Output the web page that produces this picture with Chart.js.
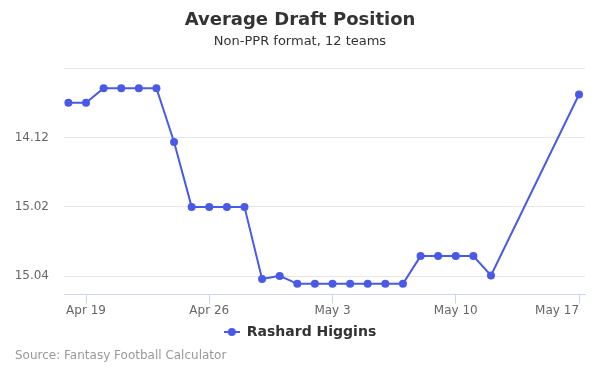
<!DOCTYPE html>
<html>
<head>
<meta charset="utf-8">
<script src="https://cdn.jsdelivr.net/npm/chart.js@4.4.1/dist/chart.umd.min.js"></script>
<style>
  html, body { margin: 0; padding: 0; background: #fff; }
  #wrap { position: relative; width: 600px; height: 375px; }
</style>
</head>
<body>
<div id="wrap"><canvas id="adpChart" width="600" height="375"></canvas></div>
<script>
// ADP data, one point per day (overall pick number, lower is earlier)
const dates = [
    "Apr 18", "Apr 19", "Apr 20", "Apr 21", "Apr 22", "Apr 23", "Apr 24",
    "Apr 25", "Apr 26", "Apr 27", "Apr 28", "Apr 29", "Apr 30",
    "May 1", "May 2", "May 3", "May 4", "May 5", "May 6", "May 7",
    "May 8", "May 9", "May 10", "May 11", "May 12", "May 17"
];
const adp = [
    167.0, 167.0, 166.58, 166.58, 166.58, 166.58, 168.13,
    170.0, 170.0, 170.0, 170.0, 172.08, 171.99,
    172.22, 172.22, 172.22, 172.22, 172.22, 172.22, 172.22,
    171.42, 171.42, 171.42, 171.42, 171.98, 166.76
];
const xTickLabels = ["Apr 19", "Apr 26", "May 3", "May 10", "May 17"];
const yTickValues = [166, 168, 170, 172];
const seriesName = "Rashard Higgins";
const teams = 12;

const color = "#4a5ae8";
const font = "'DejaVu Sans', sans-serif";
const xMin = -1.25;

const monthStart = { Apr: 0, May: 30 };
const dayIndex = (s) => {
    const [m, d] = s.split(" ");
    return monthStart[m] + Number(d) - 19; // days from Apr 19
};

const roundPick = (p) => {
    const r = Math.floor((p - 1) / teams) + 1;
    const k = ((p - 1) % teams) + 1;
    return r + "." + String(k).padStart(2, "0");
};

// legend marker: short line with a dot
const marker = document.createElement("canvas");
marker.width = 16;
marker.height = 10;
(() => {
    const c = marker.getContext("2d");
    c.strokeStyle = color;
    c.lineWidth = 2;
    c.beginPath();
    c.moveTo(0, 5);
    c.lineTo(16, 5);
    c.stroke();
    c.fillStyle = color;
    c.beginPath();
    c.arc(8, 5, 4, 0, Math.PI * 2);
    c.fill();
})();

const sourcePlugin = {
    id: "sourceText",
    afterDraw(chart) {
        const ctx = chart.ctx;
        ctx.save();
        ctx.font = "12px " + font;
        ctx.fillStyle = "#999999";
        ctx.textAlign = "left";
        ctx.textBaseline = "middle";
        ctx.fillText("Source: Fantasy Football Calculator", 15, 356);
        ctx.restore();
    }
};

new Chart(document.getElementById("adpChart"), {
    type: "line",
    data: {
        datasets: [{
            label: seriesName,
            data: dates.map((d, i) => ({ x: dayIndex(d), y: adp[i] })),
            borderColor: color,
            backgroundColor: color,
            borderWidth: 2,
            pointRadius: 4,
            pointHoverRadius: 5,
            pointBorderWidth: 0,
            pointStyle: "circle",
            tension: 0
        }]
    },
    options: {
        responsive: false,
        animation: false,
        layout: { padding: { left: 15, right: 15, top: 0, bottom: 26 } },
        scales: {
            x: {
                type: "linear",
                min: xMin,
                max: 28.34,
                afterBuildTicks: (axis) => {
                    // blank tick at the left edge so "inner" only pulls the last label in
                    axis.ticks = [{ value: xMin }].concat(
                        xTickLabels.map((l) => ({ value: dayIndex(l) }))
                    );
                },
                ticks: {
                    autoSkip: false,
                    maxRotation: 0,
                    align: "inner",
                    padding: 0,
                    color: "#666666",
                    font: { family: font, size: 12 },
                    callback: (v) => {
                        const l = xTickLabels.find((t) => dayIndex(t) === v);
                        return l || "";
                    }
                },
                grid: {
                    drawOnChartArea: false,
                    drawTicks: true,
                    tickLength: 9,
                    color: (ctx) => (ctx.tick && ctx.tick.value === xMin ? "rgba(0,0,0,0)" : "#ccd6eb")
                },
                border: { display: true, color: "#ccd6eb", width: 1 }
            },
            y: {
                type: "linear",
                reverse: true,
                min: 166,
                max: 172.53,
                afterFit: (axis) => { axis.width = 49; },
                afterBuildTicks: (axis) => {
                    axis.ticks = yTickValues.map((v) => ({ value: v }));
                },
                ticks: {
                    padding: 15,
                    color: "#666666",
                    font: { family: font, size: 12 },
                    callback: (v) => (v === 166 ? "" : roundPick(v))
                },
                grid: { color: "#e6e6e6", drawTicks: false },
                border: { display: false }
            }
        },
        plugins: {
            title: {
                display: true,
                text: "Average Draft Position",
                color: "#333333",
                font: { family: font, size: 18, weight: "bold" },
                padding: { top: 10, bottom: 1 }
            },
            subtitle: {
                display: true,
                text: "Non-PPR format, 12 teams",
                color: "#333333",
                font: { family: font, size: 13 },
                padding: { top: 1, bottom: 19 }
            },
            legend: {
                position: "bottom",
                labels: {
                    usePointStyle: true,
                    pointStyle: marker,
                    pointStyleWidth: 16,
                    boxWidth: 16,
                    color: "#333333",
                    font: { family: font, size: 14, weight: "bold" },
                    padding: 7,
                    generateLabels: (chart) => [{
                        text: seriesName,
                        pointStyle: marker,
                        fillStyle: color,
                        strokeStyle: color,
                        lineWidth: 0,
                        datasetIndex: 0,
                        fontColor: "#333333"
                    }]
                }
            },
            tooltip: { enabled: false }
        }
    },
    plugins: [sourcePlugin]
});
</script>
</body>
</html>
